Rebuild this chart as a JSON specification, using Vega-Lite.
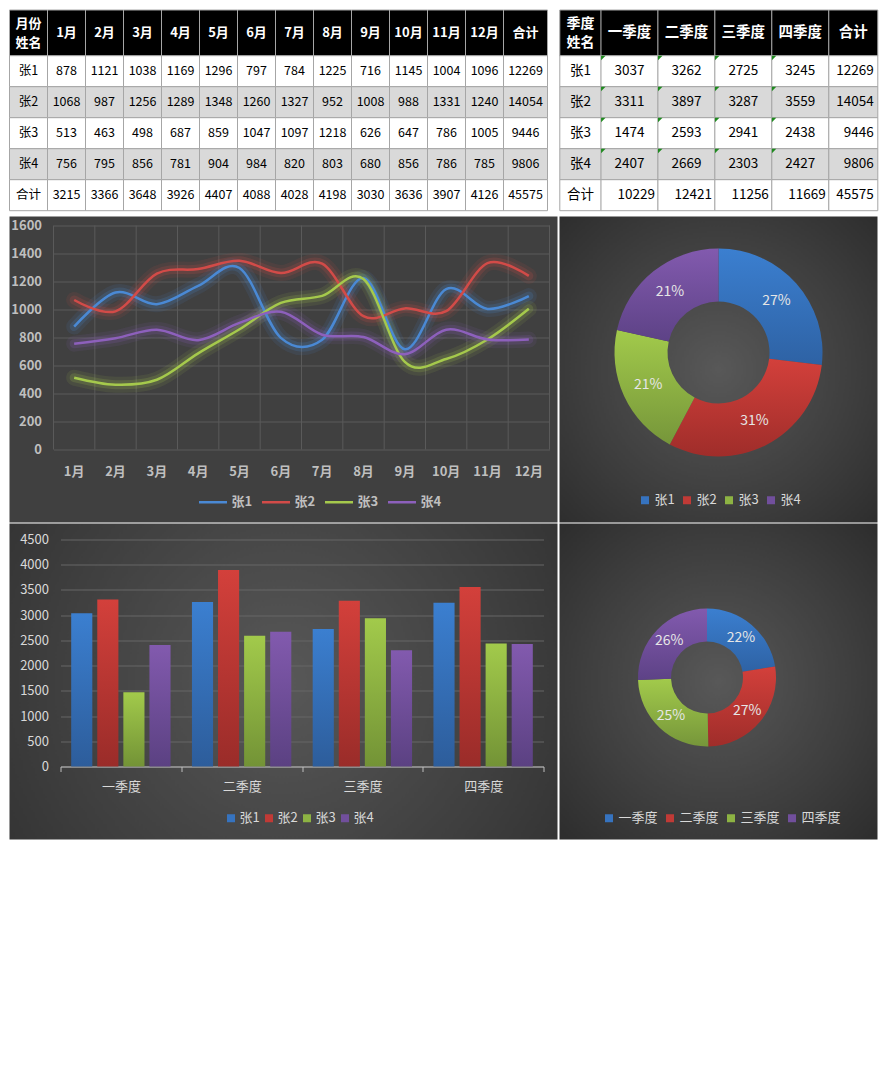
{
  "$schema": "https://vega.github.io/schema/vega-lite/v6.json",
  "background": "#ffffff",
  "padding": {"left": 8.5, "top": 9.5, "right": 8, "bottom": 5},
  "config": {"font": "Noto Sans CJK SC", "view": {"stroke": null}},
  "spacing": 1,
  "resolve": {"scale": {"color": "independent"}, "legend": {"color": "independent"}},
  "datasets": {
    "tables": [
      {"r":0,"c":0,"v":"月份\n姓名"},{"r":0,"c":1,"v":"1月"},{"r":0,"c":2,"v":"2月"},{"r":0,"c":3,"v":"3月"},{"r":0,"c":4,"v":"4月"},{"r":0,"c":5,"v":"5月"},{"r":0,"c":6,"v":"6月"},{"r":0,"c":7,"v":"7月"},{"r":0,"c":8,"v":"8月"},{"r":0,"c":9,"v":"9月"},{"r":0,"c":10,"v":"10月"},{"r":0,"c":11,"v":"11月"},{"r":0,"c":12,"v":"12月"},{"r":0,"c":13,"v":"合计"},
      {"r":1,"c":0,"v":"张1"},{"r":1,"c":1,"v":"878"},{"r":1,"c":2,"v":"1121"},{"r":1,"c":3,"v":"1038"},{"r":1,"c":4,"v":"1169"},{"r":1,"c":5,"v":"1296"},{"r":1,"c":6,"v":"797"},{"r":1,"c":7,"v":"784"},{"r":1,"c":8,"v":"1225"},{"r":1,"c":9,"v":"716"},{"r":1,"c":10,"v":"1145"},{"r":1,"c":11,"v":"1004"},{"r":1,"c":12,"v":"1096"},{"r":1,"c":13,"v":"12269"},
      {"r":2,"c":0,"v":"张2"},{"r":2,"c":1,"v":"1068"},{"r":2,"c":2,"v":"987"},{"r":2,"c":3,"v":"1256"},{"r":2,"c":4,"v":"1289"},{"r":2,"c":5,"v":"1348"},{"r":2,"c":6,"v":"1260"},{"r":2,"c":7,"v":"1327"},{"r":2,"c":8,"v":"952"},{"r":2,"c":9,"v":"1008"},{"r":2,"c":10,"v":"988"},{"r":2,"c":11,"v":"1331"},{"r":2,"c":12,"v":"1240"},{"r":2,"c":13,"v":"14054"},
      {"r":3,"c":0,"v":"张3"},{"r":3,"c":1,"v":"513"},{"r":3,"c":2,"v":"463"},{"r":3,"c":3,"v":"498"},{"r":3,"c":4,"v":"687"},{"r":3,"c":5,"v":"859"},{"r":3,"c":6,"v":"1047"},{"r":3,"c":7,"v":"1097"},{"r":3,"c":8,"v":"1218"},{"r":3,"c":9,"v":"626"},{"r":3,"c":10,"v":"647"},{"r":3,"c":11,"v":"786"},{"r":3,"c":12,"v":"1005"},{"r":3,"c":13,"v":"9446"},
      {"r":4,"c":0,"v":"张4"},{"r":4,"c":1,"v":"756"},{"r":4,"c":2,"v":"795"},{"r":4,"c":3,"v":"856"},{"r":4,"c":4,"v":"781"},{"r":4,"c":5,"v":"904"},{"r":4,"c":6,"v":"984"},{"r":4,"c":7,"v":"820"},{"r":4,"c":8,"v":"803"},{"r":4,"c":9,"v":"680"},{"r":4,"c":10,"v":"856"},{"r":4,"c":11,"v":"786"},{"r":4,"c":12,"v":"785"},{"r":4,"c":13,"v":"9806"},
      {"r":5,"c":0,"v":"合计"},{"r":5,"c":1,"v":"3215"},{"r":5,"c":2,"v":"3366"},{"r":5,"c":3,"v":"3648"},{"r":5,"c":4,"v":"3926"},{"r":5,"c":5,"v":"4407"},{"r":5,"c":6,"v":"4088"},{"r":5,"c":7,"v":"4028"},{"r":5,"c":8,"v":"4198"},{"r":5,"c":9,"v":"3030"},{"r":5,"c":10,"v":"3636"},{"r":5,"c":11,"v":"3907"},{"r":5,"c":12,"v":"4126"},{"r":5,"c":13,"v":"45575"},
      {"r":0,"c":14,"v":"季度\n姓名"},{"r":0,"c":15,"v":"一季度"},{"r":0,"c":16,"v":"二季度"},{"r":0,"c":17,"v":"三季度"},{"r":0,"c":18,"v":"四季度"},{"r":0,"c":19,"v":"合计"},
      {"r":1,"c":14,"v":"张1"},{"r":1,"c":15,"v":"3037"},{"r":1,"c":16,"v":"3262"},{"r":1,"c":17,"v":"2725"},{"r":1,"c":18,"v":"3245"},{"r":1,"c":19,"v":"12269"},
      {"r":2,"c":14,"v":"张2"},{"r":2,"c":15,"v":"3311"},{"r":2,"c":16,"v":"3897"},{"r":2,"c":17,"v":"3287"},{"r":2,"c":18,"v":"3559"},{"r":2,"c":19,"v":"14054"},
      {"r":3,"c":14,"v":"张3"},{"r":3,"c":15,"v":"1474"},{"r":3,"c":16,"v":"2593"},{"r":3,"c":17,"v":"2941"},{"r":3,"c":18,"v":"2438"},{"r":3,"c":19,"v":"9446"},
      {"r":4,"c":14,"v":"张4"},{"r":4,"c":15,"v":"2407"},{"r":4,"c":16,"v":"2669"},{"r":4,"c":17,"v":"2303"},{"r":4,"c":18,"v":"2427"},{"r":4,"c":19,"v":"9806"},
      {"r":5,"c":14,"v":"合计"},{"r":5,"c":15,"v":"10229"},{"r":5,"c":16,"v":"12421"},{"r":5,"c":17,"v":"11256"},{"r":5,"c":18,"v":"11669"},{"r":5,"c":19,"v":"45575"}
    ],
    "months": [
      {"name":"张1","month":"1月","v":878},{"name":"张1","month":"2月","v":1121},{"name":"张1","month":"3月","v":1038},{"name":"张1","month":"4月","v":1169},{"name":"张1","month":"5月","v":1296},{"name":"张1","month":"6月","v":797},{"name":"张1","month":"7月","v":784},{"name":"张1","month":"8月","v":1225},{"name":"张1","month":"9月","v":716},{"name":"张1","month":"10月","v":1145},{"name":"张1","month":"11月","v":1004},{"name":"张1","month":"12月","v":1096},
      {"name":"张2","month":"1月","v":1068},{"name":"张2","month":"2月","v":987},{"name":"张2","month":"3月","v":1256},{"name":"张2","month":"4月","v":1289},{"name":"张2","month":"5月","v":1348},{"name":"张2","month":"6月","v":1260},{"name":"张2","month":"7月","v":1327},{"name":"张2","month":"8月","v":952},{"name":"张2","month":"9月","v":1008},{"name":"张2","month":"10月","v":988},{"name":"张2","month":"11月","v":1331},{"name":"张2","month":"12月","v":1240},
      {"name":"张3","month":"1月","v":513},{"name":"张3","month":"2月","v":463},{"name":"张3","month":"3月","v":498},{"name":"张3","month":"4月","v":687},{"name":"张3","month":"5月","v":859},{"name":"张3","month":"6月","v":1047},{"name":"张3","month":"7月","v":1097},{"name":"张3","month":"8月","v":1218},{"name":"张3","month":"9月","v":626},{"name":"张3","month":"10月","v":647},{"name":"张3","month":"11月","v":786},{"name":"张3","month":"12月","v":1005},
      {"name":"张4","month":"1月","v":756},{"name":"张4","month":"2月","v":795},{"name":"张4","month":"3月","v":856},{"name":"张4","month":"4月","v":781},{"name":"张4","month":"5月","v":904},{"name":"张4","month":"6月","v":984},{"name":"张4","month":"7月","v":820},{"name":"张4","month":"8月","v":803},{"name":"张4","month":"9月","v":680},{"name":"张4","month":"10月","v":856},{"name":"张4","month":"11月","v":786},{"name":"张4","month":"12月","v":785}
    ],
    "quarters": [
      {"name":"张1","quarter":"一季度","v":3037},{"name":"张1","quarter":"二季度","v":3262},{"name":"张1","quarter":"三季度","v":2725},{"name":"张1","quarter":"四季度","v":3245},
      {"name":"张2","quarter":"一季度","v":3311},{"name":"张2","quarter":"二季度","v":3897},{"name":"张2","quarter":"三季度","v":3287},{"name":"张2","quarter":"四季度","v":3559},
      {"name":"张3","quarter":"一季度","v":1474},{"name":"张3","quarter":"二季度","v":2593},{"name":"张3","quarter":"三季度","v":2941},{"name":"张3","quarter":"四季度","v":2438},
      {"name":"张4","quarter":"一季度","v":2407},{"name":"张4","quarter":"二季度","v":2669},{"name":"张4","quarter":"三季度","v":2303},{"name":"张4","quarter":"四季度","v":2427}
    ],
    "byPerson": [
      {"i":1,"name":"张1","total":12269,"label":"27%"},
      {"i":2,"name":"张2","total":14054,"label":"31%"},
      {"i":3,"name":"张3","total":9446,"label":"21%"},
      {"i":4,"name":"张4","total":9806,"label":"21%"}
    ],
    "byQuarter": [
      {"i":1,"quarter":"一季度","total":10229,"label":"22%"},
      {"i":2,"quarter":"二季度","total":12421,"label":"27%"},
      {"i":3,"quarter":"三季度","total":11256,"label":"25%"},
      {"i":4,"quarter":"四季度","total":11669,"label":"26%"}
    ]
  },
  "vconcat": [
    {
      "width": 868, "height": 206,
      "data": {"name": "tables"},
      "encoding": {
        "x": {"field": "c", "type": "quantitative", "scale": {"domain": [0, 1, 12, 13, 14, 15, 18, 19], "range": [19, 57, 475, 516, 571, 620, 790.8, 843.8], "zero": false, "nice": false}, "axis": null},
        "y": {"field": "r", "type": "quantitative", "scale": {"domain": [0, 1, 5], "range": [23.5, 61.7, 185.7], "zero": false, "nice": false}, "axis": null}
      },
      "layer": [
        {"mark": {"type": "rect",
                  "width": {"expr": "datum.c==13 ? 44 : (datum.c==14 ? 41.4 : (datum.c==19 ? 49 : (datum.c>=15 ? 57 : 38)))"},
                  "height": {"expr": "datum.r==0 ? 46 : 31"},
                  "fill": {"expr": "datum.r==0 ? '#000000' : ((datum.r==2 || datum.r==4) ? '#d9d9d9' : '#ffffff')"},
                  "stroke": "#a6a6a6", "strokeWidth": 1}},
        {"transform": [{"filter": "datum.r>=1 && datum.r<=4 && datum.c>=15 && datum.c<=18"}],
         "mark": {"type": "point", "shape": "M-1,-1L1,-1L-1,1Z", "size": 20, "filled": true, "fill": "#1f8a1f", "strokeWidth": 0, "opacity": 1, "xOffset": -26.2, "yOffset": -13.2}},
        {"transform": [{"filter": "!((datum.r==5 && datum.c>14) || (datum.c==19 && datum.r>0))"}],
         "mark": {"type": "text", "align": "center", "baseline": "middle", "lineBreak": "\n", "lineHeight": 18.5,
                  "dy": {"expr": "(datum.r==0 && (datum.c==0 || datum.c==14)) ? -9 : 0"},
                  "fontSize": {"expr": "datum.c>=14 ? (datum.r==0 ? (datum.c==14 ? 14 : 14.5) : 13.5) : (datum.r==0 ? 13 : 12.5)"},
                  "fontWeight": {"expr": "datum.r==0 ? 'bold' : 'normal'"},
                  "fill": {"expr": "datum.r==0 ? '#ffffff' : '#000000'"}},
         "encoding": {"text": {"field": "v"}}},
        {"transform": [{"filter": "(datum.r==5 && datum.c>14) || (datum.c==19 && datum.r>0)"}],
         "mark": {"type": "text", "align": "right", "baseline": "middle", "fontSize": 13.5, "fill": "#000000", "dx": {"expr": "datum.c==19 ? 20.5 : 25.5"}},
         "encoding": {"text": {"field": "v"}}}
      ]
    },
    {
      "spacing": 2,
      "bounds": "flush",
      "resolve": {"scale": {"color": "independent"}, "legend": {"color": "independent"}},
      "hconcat": [
        {
          "width": 548, "height": 306,
          "view": {"fill": "#404040", "stroke": null},
          "data": {"name": "months"},
          "encoding": {
            "x": {"field": "month", "type": "ordinal",
                  "scale": {"domain": ["1月","2月","3月","4月","5月","6月","7月","8月","9月","10月","11月","12月"], "range": [44, 540], "paddingInner": 0, "paddingOuter": 0},
                  "axis": {"orient": "bottom", "offset": -73, "domain": false, "ticks": false, "tickSize": 0, "grid": false, "labelColor": "#bfbfbf", "labelFontSize": 13, "labelFontWeight": "bold", "labelPadding": 22, "labelBaseline": "middle", "labelAngle": 0, "title": null}},
            "y": {"field": "v", "type": "quantitative",
                  "scale": {"domain": [0, 1600], "range": [233, 9], "nice": false},
                  "axis": {"orient": "left", "offset": -37, "domain": false, "ticks": false, "tickSize": 0, "grid": true, "gridColor": "#5a5a5a", "format": "d", "values": [0,200,400,600,800,1000,1200,1400,1600], "labelColor": "#bfbfbf", "labelFontSize": 13, "labelFontWeight": "bold", "labelPadding": 5, "title": null}},
            "color": {"field": "name", "type": "nominal",
                      "scale": {"domain": ["张1","张2","张3","张4"], "range": ["#4a89d4","#d24b48","#a5c94c","#8d60bc"]},
                      "legend": {"orient": "none", "legendX": 188, "legendY": 270, "direction": "horizontal", "title": null, "symbolType": "stroke", "symbolSize": 784, "symbolStrokeWidth": 2.5, "symbolOpacity": 1, "labelColor": "#bfbfbf", "labelFontSize": 13, "labelFontWeight": "bold", "labelOffset": 3, "columnPadding": 4, "padding": 0}}
          },
          "layer": [
            {"transform": [{"filter": "datum.name=='张1'"}],
             "mark": {"type": "rule", "strokeWidth": 1},
             "encoding": {"x": {"field": "month", "type": "ordinal", "bandPosition": 0}, "y": {"datum": 0}, "y2": {"datum": 1600}, "color": {"value": "#5a5a5a"}}},
            {"transform": [{"filter": "datum.name=='张1' && datum.month=='12月'"}],
             "mark": {"type": "rule", "strokeWidth": 1},
             "encoding": {"x": {"field": "month", "type": "ordinal", "bandPosition": 1}, "y": {"datum": 0}, "y2": {"datum": 1600}, "color": {"value": "#5a5a5a"}}},
            {"mark": {"type": "line", "interpolate": "cardinal", "strokeWidth": 16, "opacity": 0.1, "strokeCap": "round", "strokeJoin": "round"}},
            {"mark": {"type": "line", "interpolate": "cardinal", "strokeWidth": 9, "opacity": 0.18, "strokeCap": "round", "strokeJoin": "round"}},
            {"mark": {"type": "line", "interpolate": "cardinal", "strokeWidth": 2.5, "strokeJoin": "round"}}
          ]
        },
        {
          "width": 318, "height": 306,
          "view": {"fill": {"gradient": "radial", "x1": 0.5, "y1": 0.5, "r1": 0, "x2": 0.5, "y2": 0.5, "r2": 0.75, "stops": [{"offset": 0, "color": "#585858"}, {"offset": 1, "color": "#2a2a2a"}]}, "stroke": null},
          "data": {"name": "byPerson"},
          "encoding": {
            "theta": {"field": "total", "type": "quantitative", "stack": true},
            "order": {"field": "i", "type": "quantitative"}
          },
          "layer": [
            {"mark": {"type": "arc", "innerRadius": 51, "outerRadius": 104, "yOffset": -17},
             "encoding": {"color": {
               "condition": [
                 {"test": "datum.i==1", "value": {"gradient": "linear", "x1": 0, "y1": 0, "x2": 0, "y2": 1, "stops": [{"offset": 0, "color": "#3b7fd0"}, {"offset": 1, "color": "#2e62a4"}]}},
                 {"test": "datum.i==2", "value": {"gradient": "linear", "x1": 0, "y1": 0, "x2": 0, "y2": 1, "stops": [{"offset": 0, "color": "#d3403b"}, {"offset": 1, "color": "#9f2d2a"}]}},
                 {"test": "datum.i==3", "value": {"gradient": "linear", "x1": 0, "y1": 0, "x2": 0, "y2": 1, "stops": [{"offset": 0, "color": "#a2ca4b"}, {"offset": 1, "color": "#76963a"}]}},
                 {"test": "datum.i==4", "value": {"gradient": "linear", "x1": 0, "y1": 0, "x2": 0, "y2": 1, "stops": [{"offset": 0, "color": "#825aae"}, {"offset": 1, "color": "#5d4286"}]}}
               ],
               "field": "name", "type": "nominal",
               "scale": {"domain": ["张1","张2","张3","张4"], "range": ["#3673bf","#c03a36","#8db343","#714f9c"]},
               "legend": {"orient": "none", "legendX": 79, "legendY": 277, "direction": "horizontal", "title": null, "symbolType": "square", "symbolSize": 64, "symbolStrokeWidth": 0, "labelColor": "#d9d9d9", "labelFontSize": 13, "labelOffset": 3, "columnPadding": 5, "padding": 0}}}},
            {"mark": {"type": "text", "radius": 77.5, "yOffset": -17, "fontSize": 14, "fill": "#e6e6e6"}, "encoding": {"text": {"field": "label"}}}
          ]
        }
      ]
    },
    {
      "spacing": 2,
      "bounds": "flush",
      "resolve": {"scale": {"color": "independent"}, "legend": {"color": "independent"}},
      "hconcat": [
        {
          "width": 548, "height": 316,
          "view": {"fill": {"gradient": "radial", "x1": 0.5, "y1": 0.5, "r1": 0, "x2": 0.5, "y2": 0.5, "r2": 0.75, "stops": [{"offset": 0, "color": "#585858"}, {"offset": 1, "color": "#2a2a2a"}]}, "stroke": null},
          "data": {"name": "quarters"},
          "mark": {"type": "bar"},
          "encoding": {
            "x": {"field": "quarter", "type": "nominal",
                  "scale": {"domain": ["一季度","二季度","三季度","四季度"], "range": [51, 534], "paddingInner": 0, "paddingOuter": 0},
                  "axis": {"orient": "bottom", "offset": -73, "domain": true, "domainColor": "#bfbfbf", "ticks": true, "tickSize": 5, "tickColor": "#bfbfbf", "tickBand": "extent", "grid": false, "labelColor": "#d9d9d9", "labelFontSize": 13, "labelPadding": 15, "labelBaseline": "middle", "labelAngle": 0, "title": null}},
            "xOffset": {"field": "name", "type": "nominal", "scale": {"domain": ["张1","张2","张3","张4"], "paddingInner": 0.19, "paddingOuter": 0.41}},
            "y": {"field": "v", "type": "quantitative",
                  "scale": {"domain": [0, 4500], "range": [243, 16], "nice": false},
                  "axis": {"orient": "left", "offset": -43, "domain": false, "ticks": false, "tickSize": 0, "grid": true, "gridColor": "#666666", "format": "d", "values": [0,500,1000,1500,2000,2500,3000,3500,4000,4500], "labelColor": "#d9d9d9", "labelFontSize": 13, "labelPadding": 4, "title": null}},
            "color": {
              "condition": [
                {"test": "datum.name=='张1'", "value": {"gradient": "linear", "x1": 0, "y1": 0, "x2": 0, "y2": 1, "stops": [{"offset": 0, "color": "#3b7fd0"}, {"offset": 1, "color": "#2d5d9b"}]}},
                {"test": "datum.name=='张2'", "value": {"gradient": "linear", "x1": 0, "y1": 0, "x2": 0, "y2": 1, "stops": [{"offset": 0, "color": "#d3403b"}, {"offset": 1, "color": "#9a2c29"}]}},
                {"test": "datum.name=='张3'", "value": {"gradient": "linear", "x1": 0, "y1": 0, "x2": 0, "y2": 1, "stops": [{"offset": 0, "color": "#a2ca4b"}, {"offset": 1, "color": "#739336"}]}},
                {"test": "datum.name=='张4'", "value": {"gradient": "linear", "x1": 0, "y1": 0, "x2": 0, "y2": 1, "stops": [{"offset": 0, "color": "#825aae"}, {"offset": 1, "color": "#5b4182"}]}}
              ],
              "field": "name", "type": "nominal",
              "scale": {"domain": ["张1","张2","张3","张4"], "range": ["#3673bf","#c03a36","#8db343","#714f9c"]},
              "legend": {"orient": "none", "legendX": 215, "legendY": 288, "direction": "horizontal", "title": null, "symbolType": "square", "symbolSize": 64, "symbolStrokeWidth": 0, "labelColor": "#d9d9d9", "labelFontSize": 13, "labelOffset": 2, "columnPadding": 2, "padding": 0}}
          }
        },
        {
          "width": 318, "height": 316,
          "view": {"fill": {"gradient": "radial", "x1": 0.5, "y1": 0.5, "r1": 0, "x2": 0.5, "y2": 0.5, "r2": 0.75, "stops": [{"offset": 0, "color": "#585858"}, {"offset": 1, "color": "#2a2a2a"}]}, "stroke": null},
          "data": {"name": "byQuarter"},
          "encoding": {
            "theta": {"field": "total", "type": "quantitative", "stack": true},
            "order": {"field": "i", "type": "quantitative"}
          },
          "layer": [
            {"mark": {"type": "arc", "innerRadius": 36, "outerRadius": 69, "xOffset": -11.5, "yOffset": -4},
             "encoding": {"color": {
               "condition": [
                 {"test": "datum.i==1", "value": {"gradient": "linear", "x1": 0, "y1": 0, "x2": 0, "y2": 1, "stops": [{"offset": 0, "color": "#3b7fd0"}, {"offset": 1, "color": "#2e62a4"}]}},
                 {"test": "datum.i==2", "value": {"gradient": "linear", "x1": 0, "y1": 0, "x2": 0, "y2": 1, "stops": [{"offset": 0, "color": "#d3403b"}, {"offset": 1, "color": "#9f2d2a"}]}},
                 {"test": "datum.i==3", "value": {"gradient": "linear", "x1": 0, "y1": 0, "x2": 0, "y2": 1, "stops": [{"offset": 0, "color": "#a2ca4b"}, {"offset": 1, "color": "#76963a"}]}},
                 {"test": "datum.i==4", "value": {"gradient": "linear", "x1": 0, "y1": 0, "x2": 0, "y2": 1, "stops": [{"offset": 0, "color": "#825aae"}, {"offset": 1, "color": "#5d4286"}]}}
               ],
               "field": "quarter", "type": "nominal",
               "scale": {"domain": ["一季度","二季度","三季度","四季度"], "range": ["#3673bf","#c03a36","#8db343","#714f9c"]},
               "legend": {"orient": "none", "legendX": 43, "legendY": 288, "direction": "horizontal", "title": null, "symbolType": "square", "symbolSize": 64, "symbolStrokeWidth": 0, "labelColor": "#d9d9d9", "labelFontSize": 13, "labelOffset": 3, "columnPadding": 5, "padding": 0}}}},
            {"mark": {"type": "text", "radius": 52.5, "xOffset": -11.5, "yOffset": -4, "fontSize": 14, "fill": "#e6e6e6"}, "encoding": {"text": {"field": "label"}}}
          ]
        }
      ]
    }
  ]
}
